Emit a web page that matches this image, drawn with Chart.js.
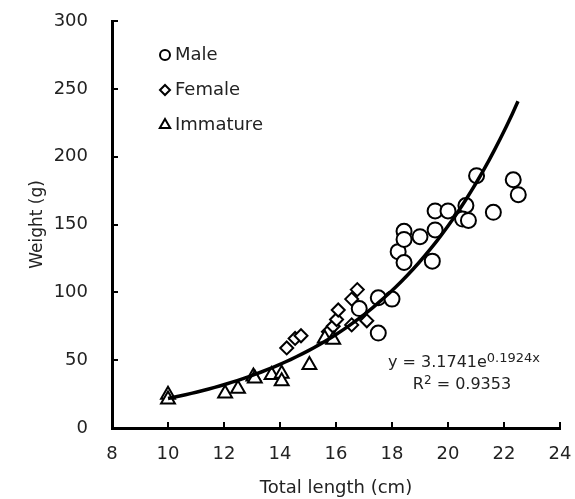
<!DOCTYPE html>
<html>
<head>
<meta charset="utf-8">
<script src="https://cdn.jsdelivr.net/npm/chart.js@4"></script>
<style>
  html, body { margin: 0; padding: 0; background: #fff; }
  #wrap { width: 575px; height: 499px; }
</style>
</head>
<body>
<div id="wrap"><canvas id="lwChart"></canvas></div>
<script>
'use strict';

// Length (cm) / weight (g) pairs per group
const maleLength = [16.83, 17.51, 18.0, 17.51, 18.22, 18.43, 18.43, 18.43, 19.0, 19.44,
  19.54, 19.54, 20.0, 20.64, 20.52, 20.73, 21.02, 21.62, 22.33, 22.51];
const maleWeight = [88, 96, 95, 70, 130, 122, 145, 139, 141, 123,
  146, 160, 160, 164, 154, 153, 186, 159, 183, 172];

const femaleLength = [14.24, 14.54, 14.75, 15.73, 15.9, 16.02, 16.08, 16.56, 16.56, 16.76, 17.1];
const femaleWeight = [59, 66, 68, 71, 75, 80, 87, 76, 95, 102, 79];

const immatureLength = [10.0, 10.0, 12.04, 12.5, 13.05, 13.1, 13.7, 14.06, 14.06, 15.05, 15.6, 15.9];
const immatureWeight = [24.5, 21, 25.5, 29, 38, 36.5, 39, 40, 34.5, 46.5, 66, 65];

// Exponential fit y = a * e^(b x), drawn between these lengths
const fitA = 3.1741;
const fitB = 0.1924;
const fitR2 = '0.9353';
const fitFrom = 10;
const fitTo = 22.5;

const xTicks = [8, 10, 12, 14, 16, 18, 20, 22, 24];
const yTicks = [0, 50, 100, 150, 200, 250, 300];

const FONT = '"DejaVu Sans", sans-serif';
const INK = '#222';

function pairs(xs, ys) {
  return xs.map((x, i) => ({ x, y: ys[i] }));
}

function fitCurve() {
  const pts = [];
  const steps = 60;
  for (let i = 0; i <= steps; i++) {
    const x = fitFrom + (fitTo - fitFrom) * i / steps;
    pts.push({ x, y: fitA * Math.exp(fitB * x) });
  }
  return pts;
}

// keep the plot box fixed: no extra room for overhanging tick labels
function noOverhang(scale) {
  scale.paddingTop = 0;
  scale.paddingRight = 0;
  scale.paddingLeft = 0;
  scale.paddingBottom = 0;
}

// text with a raised part, centred on cx
function supText(ctx, parts, cx, cy) {
  const widths = parts.map(p => {
    ctx.font = p.size + 'px ' + FONT;
    return ctx.measureText(p.text).width;
  });
  let x = cx - widths.reduce((a, b) => a + b, 0) / 2;
  parts.forEach((p, i) => {
    ctx.font = p.size + 'px ' + FONT;
    ctx.fillText(p.text, x, cy - (p.rise || 0));
    x += widths[i];
  });
}

// Inward tick marks, legend and fit equation drawn on top of the chart
const overlay = {
  id: 'overlay',
  afterDraw(chart) {
    const { ctx, chartArea: area, scales } = chart;
    ctx.save();
    ctx.strokeStyle = '#000';
    ctx.lineWidth = 2;
    xTicks.forEach(v => {
      const px = Math.round(scales.x.getPixelForValue(v));
      ctx.beginPath();
      ctx.moveTo(px, area.bottom);
      ctx.lineTo(px, area.bottom - 6);
      ctx.stroke();
    });
    yTicks.forEach(v => {
      const py = Math.round(scales.y.getPixelForValue(v));
      ctx.beginPath();
      ctx.moveTo(area.left, py);
      ctx.lineTo(area.left + 6, py);
      ctx.stroke();
    });

    // legend
    const items = [
      { label: 'Male', style: 'circle', r: 5 },
      { label: 'Female', style: 'rectRot', r: 5 },
      { label: 'Immature', style: 'triangle', r: 6 },
    ];
    ctx.font = '18px ' + FONT;
    ctx.textBaseline = 'middle';
    ctx.textAlign = 'left';
    items.forEach((it, i) => {
      const cy = area.top + 34 + i * 35;
      const cx = area.left + 53;
      ctx.lineWidth = 2;
      ctx.strokeStyle = '#000';
      ctx.fillStyle = '#fff';
      Chart.helpers.drawPoint(ctx, { pointStyle: it.style, radius: it.r, borderWidth: 2 }, cx, cy);
      ctx.fillStyle = INK;
      ctx.fillText(it.label, cx + 10, cy);
    });

    // fit equation
    ctx.fillStyle = INK;
    supText(ctx, [
      { text: 'y = ' + fitA + 'e', size: 16 },
      { text: fitB + 'x', size: 13, rise: 4 },
    ], 464, 363);
    supText(ctx, [
      { text: 'R', size: 16 },
      { text: '2', size: 12, rise: 4 },
      { text: ' = ' + fitR2, size: 16 },
    ], 462, 385);
    ctx.restore();
  }
};

const markerBase = {
  showLine: false,
  backgroundColor: '#fff',
  borderColor: '#000',
  borderWidth: 2,
};

new Chart(document.getElementById('lwChart'), {
  type: 'scatter',
  data: {
    datasets: [
      {
        type: 'line',
        label: 'Fit',
        data: fitCurve(),
        borderColor: '#000',
        borderWidth: 3.5,
        pointRadius: 0,
        fill: false,
        tension: 0,
        order: 0,
      },
      Object.assign({ label: 'Male', data: pairs(maleLength, maleWeight), pointStyle: 'circle', pointRadius: 7.5, order: 3 }, markerBase),
      Object.assign({ label: 'Female', data: pairs(femaleLength, femaleWeight), pointStyle: 'rectRot', pointRadius: 6.5, order: 2 }, markerBase),
      Object.assign({ label: 'Immature', data: pairs(immatureLength, immatureWeight), pointStyle: 'triangle', pointRadius: 8, order: 1 }, markerBase),
    ],
  },
  options: {
    responsive: true,
    maintainAspectRatio: false,
    animation: false,
    events: [],
    layout: { padding: { top: 21, right: 15, left: 0, bottom: 0 } },
    plugins: { legend: { display: false }, tooltip: { enabled: false } },
    scales: {
      x: {
        type: 'linear',
        min: 8,
        max: 24,
        afterBuildTicks(scale) { scale.ticks = xTicks.map(v => ({ value: v })); },
        afterFit(scale) { scale.height = 71; noOverhang(scale); },
        border: { display: true, color: '#000', width: 3 },
        grid: { display: false, drawTicks: false },
        ticks: { color: INK, font: { family: FONT, size: 18 }, padding: 16, maxRotation: 0 },
        title: {
          display: true,
          text: 'Total length (cm)',
          color: INK,
          font: { family: FONT, size: 18 },
          padding: { top: 0, bottom: 0 },
        },
      },
      y: {
        type: 'linear',
        min: 0,
        max: 300,
        afterBuildTicks(scale) { scale.ticks = yTicks.map(v => ({ value: v })); },
        afterFit(scale) { scale.width = 112; noOverhang(scale); },
        border: { display: true, color: '#000', width: 3 },
        grid: { display: false, drawTicks: false },
        ticks: { color: INK, font: { family: FONT, size: 18 }, padding: 24 },
        title: {
          display: true,
          text: 'Weight (g)',
          color: INK,
          font: { family: FONT, size: 17 },
          padding: { top: 27, bottom: 0 },
        },
      },
    },
  },
  plugins: [overlay],
});
</script>
</body>
</html>
